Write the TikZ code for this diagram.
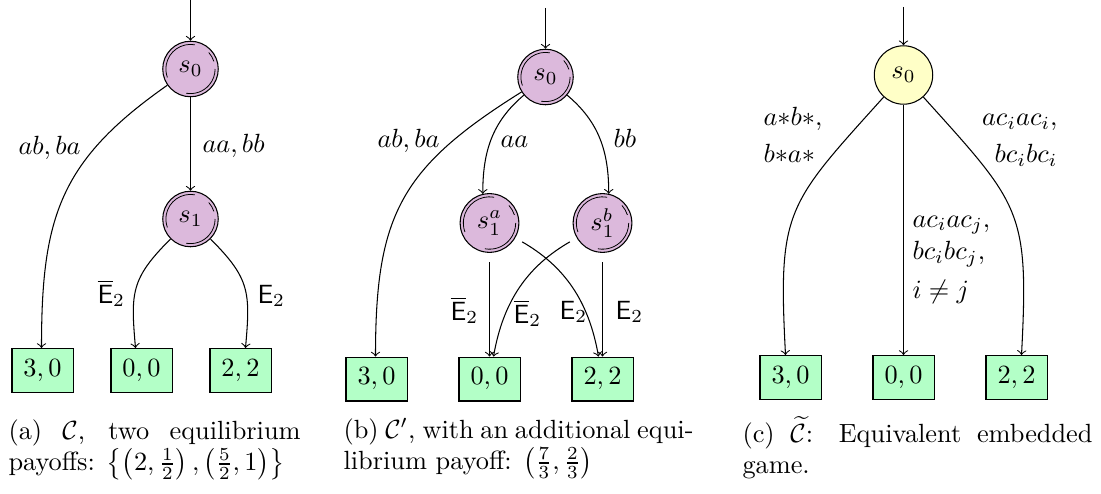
\documentclass[tikz,border=0pt]{standalone}
\usetikzlibrary{calc}
\definecolor{statepurple}{RGB}{220,185,220}
\definecolor{leafgreen}{RGB}{179,255,199}
\definecolor{stateyellow}{RGB}{255,255,199}
\tikzset{
  pstate/.style={circle,draw,fill=statepurple,inner sep=0pt,minimum size=#1,
    path picture={
      \draw[line width=0.3pt] (path picture bounding box.center) ++(80:{0.5*#1-1.2pt}) arc[start angle=80,end angle=200,radius={0.5*#1-1.2pt}];
      \draw[line width=0.3pt] (path picture bounding box.center) ++(260:{0.5*#1-1.2pt}) arc[start angle=260,end angle=360,radius={0.5*#1-1.2pt}];
      \draw[line width=0.3pt] (path picture bounding box.center) ++(18:{0.5*#1-1.2pt}) arc[start angle=18,end angle=42,radius={0.5*#1-1.2pt}];
    }},
  ystate/.style={circle,draw,fill=stateyellow,inner sep=0pt,minimum size=22.2pt},
  leaf/.style={rectangle,draw,fill=leafgreen,inner sep=0pt,minimum width=23.2pt,minimum height=16.7pt},
  lbl/.style={inner sep=0pt},
  trans/.style={->},
}
\begin{document}
\begin{tikzpicture}[x=0.38pt,y=-0.38pt]
\useasboundingbox (0,0) rectangle (1101,494);
% ---------- (a) ----------
\node[pstate=21.1pt] (sa0) at (190.5,69) {$s_0$};
\node[pstate=21.1pt] (sa1) at (190.5,219) {$s_1$};
\node[leaf] (la30) at (42.5,370.5) {$3,0$};
\node[leaf] (la00) at (141.5,370.5) {$0,0$};
\node[leaf] (la22) at (240.5,370.5) {$2,2$};
\coordinate (ia) at (190.5,0);
\draw[trans] (ia) -- (sa0);
\draw[trans] (sa0) to[out=215,in=90,looseness=1.15] ($(la30.north)+(-1,0)$);
\draw[trans] (sa0) -- (sa1);
\draw[trans] (sa1) to[out=225,in=95,looseness=1.25] ($(la00.north)+(-6,0)$);
\draw[trans] (sa1) to[out=-45,in=85,looseness=1.25] ($(la22.north)+(5,0)$);
\node[lbl,anchor=base west] (tab) at (18,155) {$ab,ba$};
\node[lbl,anchor=base west] (taa) at (202,152) {$aa,bb$};
\node[lbl,anchor=base west] (tea) at (97,303) {$\overline{\mathsf{E}}_2$};
\node[lbl,anchor=base west] (teb) at (257,303) {$\mathsf{E}_2$};
\node[lbl,anchor=base west] (capa) at (8,439) {\parbox[t]{111pt}{(a) $\mathcal{C}$, two equilibrium\linebreak payoffs: $\left\{\left(2,\frac{1}{2}\right),\left(\frac{5}{2},1\right)\right\}$}};
% ---------- (b) ----------
\node[pstate=21.1pt] (sb0) at (545.5,77) {$s_0$};
\node[pstate=22.3pt] (sb1a) at (489.5,223) {$s_1^a$};
\node[pstate=22.3pt] (sb1b) at (602.5,223) {$s_1^b$};
\node[leaf] (lb30) at (376.5,379) {$3,0$};
\node[leaf] (lb00) at (489.5,379) {$0,0$};
\node[leaf] (lb22) at (602.5,379) {$2,2$};
\coordinate (ib) at (545.5,8);
\draw[trans] (ib) -- (sb0);
\draw[trans] (sb0) to[out=212,in=90,looseness=1.2] ($(lb30.north)+(-1,0)$);
\draw[trans] (sb0) to[out=220,in=90] (sb1a.103);
\draw[trans] (sb0) to[out=-40,in=90] (sb1b.78);
\draw[trans,shorten <=3.5pt] (sb1a) -- (lb00);
\draw[trans,shorten <=3pt] (sb1a) to[out=-30,in=100] ($(lb22.north)+(-4,0)$);
\draw[trans,shorten <=3pt] (sb1b) to[out=210,in=80] ($(lb00.north)+(4,0)$);
\draw[trans,shorten <=3.5pt] (sb1b) -- (lb22);
\node[lbl,anchor=base west] (tbab) at (377,148) {$ab,ba$};
\node[lbl,anchor=base west] (tbaa) at (500,147) {$aa$};
\node[lbl,anchor=base west] (tbbb) at (613,147) {$bb$};
\node[lbl,anchor=base west] (tbe1) at (450,320) {$\overline{\mathsf{E}}_2$};
\node[lbl,anchor=base west] (tbe2) at (513,323) {$\overline{\mathsf{E}}_2$};
\node[lbl,anchor=base west] (tbe3) at (559,319) {$\mathsf{E}_2$};
\node[lbl,anchor=base west] (tbe4) at (615,319) {$\mathsf{E}_2$};
\node[lbl,anchor=base west] (capb) at (343,438) {\parbox[t]{133pt}{(b) $\mathcal{C}'$, with an additional equi-\linebreak librium payoff: $\left(\frac{7}{3},\frac{2}{3}\right)$}};
% ---------- (c) ----------
\node[ystate] (sc0) at (903.5,75) {$s_0$};
\node[leaf] (lc30) at (790.5,377.5) {$3,0$};
\node[leaf] (lc00) at (903.5,377.5) {$0,0$};
\node[leaf] (lc22) at (1016.5,377.5) {$2,2$};
\coordinate (ic) at (903.5,7);
\draw[trans] (ic) -- (sc0);
\draw[trans] (sc0) to[out=228,in=93,looseness=1.35] ($(lc30.north)+(-5,0)$);
\draw[trans] (sc0) -- (lc00);
\draw[trans] (sc0) to[out=-48,in=87,looseness=1.35] ($(lc22.north)+(5,0)$);
\node[lbl,anchor=base west] (tcl) at (763,126) {\begin{tabular}[t]{@{}l@{}}$a{*}b{*},$\\[2pt]$b{*}a{*}$\end{tabular}};
\node[lbl,anchor=base east] (tcr) at (1058,126) {\begin{tabular}[t]{@{}r@{}}$ac_iac_i,$\\[2pt]$bc_ibc_i$\end{tabular}};
\node[lbl,anchor=base west] (tcm) at (912,227) {\begin{tabular}[t]{@{}l@{}}$ac_iac_j,$\\[0.5pt]$bc_ibc_j,$\\[2.5pt]$i\neq j$\end{tabular}};
\node[lbl,anchor=base west] (capc) at (742,442) {\parbox[t]{133pt}{(c) $\widetilde{\mathcal{C}}$: Equivalent embedded\linebreak game.}};
\end{tikzpicture}
\end{document}
